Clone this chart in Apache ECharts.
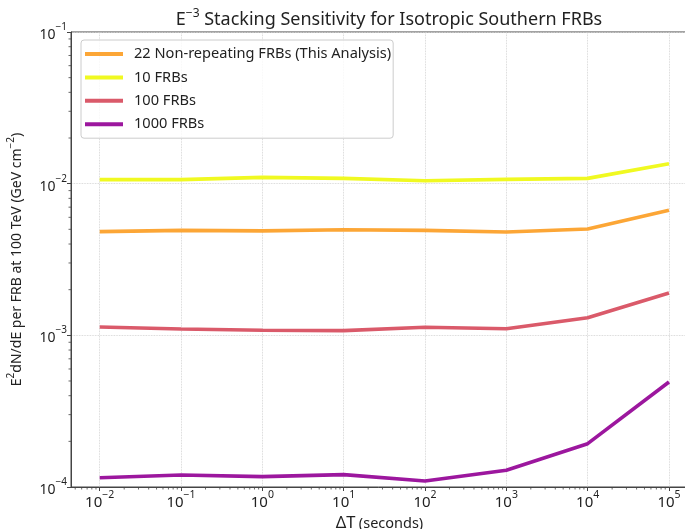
<!DOCTYPE html>
<html><head><meta charset="utf-8">
<script src="https://cdn.jsdelivr.net/npm/echarts@6/dist/echarts.min.js"></script>
<style>html,body{margin:0;padding:0;background:#fff}#c{width:685px;height:529px}</style>
</head><body><div id="c"></div>
<script>
// ---- data ----
const deltaT = [1e-2, 1e-1, 1e0, 1e1, 1e2, 1e3, 1e4, 1e5];
const nonRepeating22 = [0.00483, 0.00492, 0.00488, 0.00497, 0.00492, 0.00480, 0.00502, 0.00667];
const frbs10 = [0.01063, 0.01063, 0.01100, 0.01084, 0.01046, 0.01068, 0.01084, 0.01355];
const frbs100 = [0.001135, 0.00110, 0.00108, 0.001074, 0.00113, 0.001106, 0.001307, 0.00190];
const frbs1000 = [0.000115, 0.000120, 0.000117, 0.0001206, 0.0001096, 0.0001288, 0.000193, 0.000492];
const seriesNames = ['22 Non-repeating FRBs (This Analysis)', '10 FRBs', '100 FRBs', '1000 FRBs'];
const seriesValues = [nonRepeating22, frbs10, frbs100, frbs1000];
const seriesColors = ['#FCA636', '#F0F921', '#DA5A6A', '#9C179E'];

// ---- axis ranges ----
const xMin = Math.pow(10, -2.353), xMax = Math.pow(10, 5.234);
const yMin = 1e-4, yMax = 1e-1;

// minor tick positions (2..9 x each decade)
const xMinor = [], yMinor = [];
for (let e = -3; e <= 5; e++) for (let k = 2; k <= 9; k++) { const v = k * Math.pow(10, e); if (v > xMin && v < xMax) xMinor.push([v, yMin]); }
for (let e = -4; e <= -2; e++) for (let k = 2; k <= 9; k++) { const v = k * Math.pow(10, e); if (v > yMin && v < yMax) yMinor.push([xMin, v]); }

const FONT = 'Noto Sans';
const AX = '#444';
function powLabel(v) {
  const e = Math.round(Math.log10(v));
  return '{b|10}{s|' + (e < 0 ? '\u2212' + (-e) : e) + '}';
}
const yRich = {
  b: { fontSize: 14, fontFamily: FONT, color: '#222', verticalAlign: 'bottom', lineHeight: 20 },
  s: { fontSize: 10, fontFamily: FONT, color: '#222', verticalAlign: 'top', lineHeight: 9 }
};
const xRich = {
  b: { fontSize: 15, fontFamily: FONT, color: '#222', verticalAlign: 'bottom', lineHeight: 20 },
  s: { fontSize: 10.5, fontFamily: FONT, color: '#222', verticalAlign: 'top', lineHeight: 9 }
};

const chart = echarts.init(document.getElementById('c'), null, { renderer: 'canvas' });
const lineSeries = seriesNames.map((n, i) => ({
  name: n, type: 'line', data: deltaT.map((t, j) => [t, seriesValues[i][j]]),
  symbol: 'none', smooth: false, color: seriesColors[i],
  lineStyle: { width: 3.6, color: seriesColors[i] }, z: 3
}));
chart.setOption({
  animation: false,
  backgroundColor: '#fff',
  title: {
    text: 'E{s|\u22123} Stacking Sensitivity for Isotropic Southern FRBs',
    left: 384, top: 3, textAlign: 'center',
    textStyle: {
      fontSize: 18, fontWeight: 'normal', fontFamily: FONT, color: '#222',
      rich: {
        s: { fontSize: 12, fontFamily: FONT, color: '#222', verticalAlign: 'top', lineHeight: 10 }
      },
      lineHeight: 24
    }
  },
  legend: {
    data: seriesNames.map(n => ({ name: n, icon: 'rect' })),
    orient: 'vertical', left: 81, top: 40,
    itemWidth: 38, itemHeight: 4, itemGap: 7.4,
    padding: [6, 2, 6, 4],
    selectedMode: false,
    borderColor: '#ccc', borderWidth: 1, borderRadius: 3,
    backgroundColor: 'rgba(255,255,255,0.8)',
    textStyle: { fontSize: 14.6, lineHeight: 16, fontFamily: FONT, color: '#222', padding: [0, 0, 0, 6] }
  },
  grid: { left: 71, top: 32, right: -3, bottom: 42, outerBoundsMode: 'none', containLabel: false,
    show: true, borderColor: AX, borderWidth: 1, backgroundColor: 'transparent' },
  xAxis: {
    type: 'log', logBase: 10, min: xMin, max: xMax,
    name: '{d|\u0394T} {p|(seconds)}', nameLocation: 'middle', nameGap: 25,
    nameTextStyle: { rich: {
      d: { fontSize: 16.5, fontFamily: FONT, color: '#222' },
      p: { fontSize: 14.5, fontFamily: FONT, color: '#222' }
    } },
    axisLine: { show: true, lineStyle: { color: AX, width: 1 } },
    axisTick: { show: true, length: 4, lineStyle: { color: AX } },
    axisLabel: { formatter: powLabel, rich: xRich, margin: 3, showMinLabel: false, showMaxLabel: false },
    splitLine: { show: true, lineStyle: { color: '#ccc', type: 'dotted', width: 0.8 } },
    minorTick: { show: false }
  },
  yAxis: {
    type: 'log', logBase: 10, min: yMin, max: yMax,
    name: '{n|E}{s|2}{n|dN/dE per FRB at 100 TeV (GeV cm}{s|\u22122}{n|)}',
    nameLocation: 'middle', nameGap: 47, nameRotate: 90,
    nameTextStyle: { rich: {
      n: { fontSize: 14, fontFamily: FONT, color: '#222', verticalAlign: 'bottom', lineHeight: 18 },
      s: { fontSize: 10, fontFamily: FONT, color: '#222', verticalAlign: 'top', lineHeight: 9 }
    } },
    axisLine: { show: true, lineStyle: { color: AX, width: 1 } },
    axisTick: { show: true, length: 4, lineStyle: { color: AX } },
    axisLabel: { formatter: powLabel, rich: yRich, margin: 4 },
    splitLine: { show: true, lineStyle: { color: '#ccc', type: 'dotted', width: 0.8 } }
  },
  series: lineSeries.concat([
    {
      type: 'custom', name: 'xminor', silent: true, clip: false, z: 4,
      data: xMinor,
      renderItem: (params, api) => {
        const p = api.coord([api.value(0), api.value(1)]);
        return { type: 'line', shape: { x1: p[0], y1: p[1], x2: p[0], y2: p[1] + 2.5 }, style: { stroke: AX, lineWidth: 0.8 } };
      }
    },
    {
      type: 'custom', name: 'yminor', silent: true, clip: false, z: 4,
      data: yMinor,
      renderItem: (params, api) => {
        const p = api.coord([api.value(0), api.value(1)]);
        return { type: 'line', shape: { x1: p[0] - 2.5, y1: p[1], x2: p[0], y2: p[1] }, style: { stroke: AX, lineWidth: 0.8 } };
      }
    }
  ])
});
</script></body></html>
